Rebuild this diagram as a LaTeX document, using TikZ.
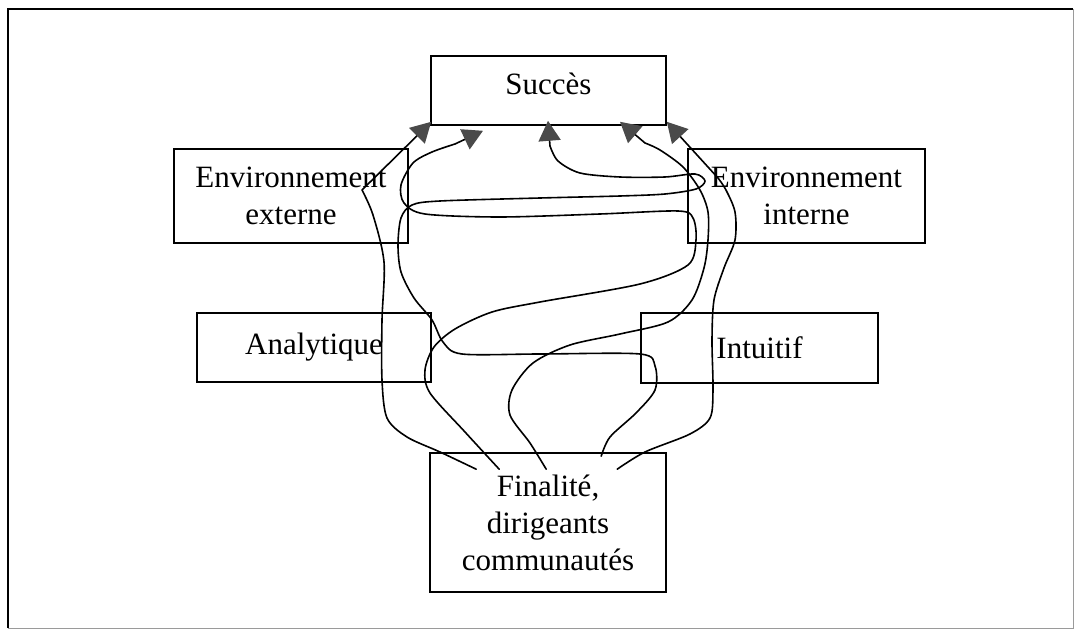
\documentclass[tikz,border=0pt]{standalone}
\usepackage{fontspec}
\setmainfont{Liberation Serif}
\usetikzlibrary{arrows.meta}
\definecolor{tipgray}{HTML}{4A4A4A}
\definecolor{framegray}{HTML}{9A9A9A}
\begin{document}
\begin{tikzpicture}[x=1pt,y=-1pt,
  box/.style={draw, line width=1.6pt, inner sep=0pt, align=center,
              font=\fontsize{31}{37}\selectfont},
  conn/.style={line width=1.6pt, line join=round, line cap=round,
               -{Triangle[length=20pt,width=22pt,color=tipgray]}},
]
\useasboundingbox (0,0) rectangle (1080,636);

% frame
\draw[line width=2pt] (8,628) -- (8,9.5) -- (1073,9.5);
\draw[line width=0.8pt, framegray] (1073,9.5) -- (1073,628) -- (8,628);

% boxes
\node[box, minimum width=235pt, minimum height=69pt, text depth=14pt] (suc) at (548.5,90.5) {Succès};
\node[box, minimum width=234pt, minimum height=94pt] (ext) at (291,196) {Environnement\\externe};
\node[box, minimum width=237pt, minimum height=94pt] (int) at (806.5,196) {Environnement\\interne};
\node[box, minimum width=234pt, minimum height=69pt] (ana) at (314,347.5) {Analytique};
\node[box, minimum width=237pt, minimum height=70pt] (intu) at (759.5,348) {Intuitif};
\node[box, minimum width=236pt, minimum height=139pt] (fin) at (548,522.5) {Finalité,\\dirigeants\\communautés};

% connector ends on the top box
\coordinate (a1) at ([shift={(1,-4)}]suc.south west);
\coordinate (a2) at ([shift={(-65.5,5)}]suc.south);
\coordinate (a3) at ([shift={(-0.5,-5)}]suc.south);
\coordinate (a4) at ([shift={(71.5,-4)}]suc.south);
\coordinate (a5) at ([shift={(0,-4)}]suc.south east);

% connector starts in the bottom box
\coordinate (s1) at ([shift={(47,17)}]fin.north west);
\coordinate (s2) at ([shift={(70,17)}]fin.north west);
\coordinate (s3) at ([shift={(117,17)}]fin.north west);
\coordinate (s4) at ([shift={(172,4)}]fin.north west);
\coordinate (s5) at ([shift={(188,17)}]fin.north west);

% connectors
\draw[conn] plot[smooth] coordinates {(s1) (440,452) (407,437) (387,418)
  (382,380) (382,320) (384,262) (373,215) (362,190)} -- (a1);

\draw[conn] plot[smooth] coordinates {(s2) (465,432) (430,393) (425,370)
  (434,347) (455,329) (492,312) (540,302) (640,284) (688,265) (696,240)
  (693,218) (678,211) (600,214) (500,217) (425,214) (404,203) (401,185)
  (413,163) (432,152) (455,144)} -- (a2);

\draw[conn] plot[smooth] coordinates {(s4) (610,437) (636,413) (655,390)
  (655,366) (640,354) (540,354) (462,354) (443,342) (432,320) (414,298)
  (401,272) (398,245) (401,218) (412,205) (440,201) (540,198) (620,196)
  (665,194) (696,189) (705,181) (695,174) (665,177) (620,177) (580,173)
  (558,161) (550,146)} -- (a3);

\draw[conn] plot[smooth] coordinates {(s3) (530,443) (510,415) (512,390)
  (533,363) (570,345) (620,334) (668,322) (692,300) (704,268) (708,240)
  (708,212) (700,190) (683,167) (660,150) (645,143)} -- (a4);

\draw[conn] plot[smooth] coordinates {(s5) (645,452) (690,434) (710,418)
  (713,390) (712,340) (714,300) (724,268) (735,240) (735,212) (726,190)
  (718,178)} -- (a5);
\end{tikzpicture}
\end{document}
